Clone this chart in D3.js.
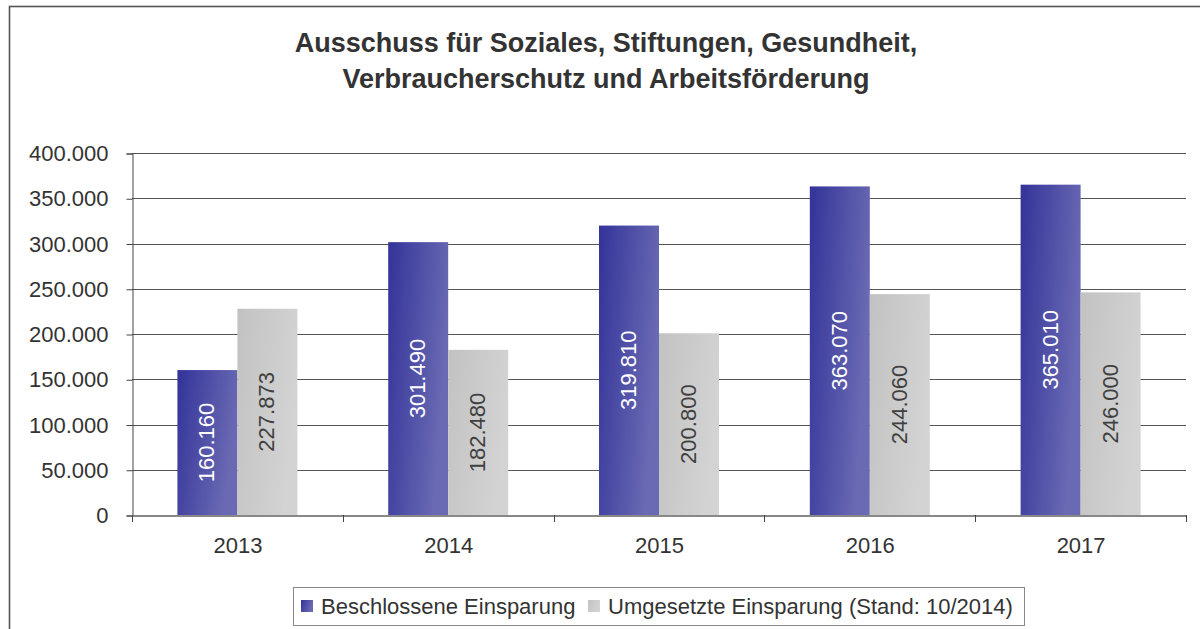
<!DOCTYPE html>
<html>
<head>
<meta charset="utf-8">
<script src="https://cdn.jsdelivr.net/npm/d3@7"></script>
<style>
  html, body { margin: 0; padding: 0; background: #fff; }
  svg { display: block; font-family: "Liberation Sans", Arial, sans-serif; }
</style>
</head>
<body>
<svg id="chart" width="1200" height="629"></svg>
<script>
const titleLines = ["Ausschuss für Soziales, Stiftungen, Gesundheit,", "Verbraucherschutz und Arbeitsförderung"];
const years = ["2013", "2014", "2015", "2016", "2017"];
const seriesNames = ["Beschlossene Einsparung", "Umgesetzte Einsparung (Stand: 10/2014)"];
const beschlossen = [160160, 301490, 319810, 363070, 365010];
const umgesetzt = [227873, 182480, 200800, 244060, 246000];
const yTicks = [0, 50000, 100000, 150000, 200000, 250000, 300000, 350000, 400000];

const svg = d3.select("#chart");
const m = { left: 132, right: 1186, top: 153, bottom: 515 };

const locale = d3.formatLocale({ decimal: ",", thousands: ".", grouping: [3], currency: ["", "€"] });
const fmt = locale.format(",d");

const defs = svg.append("defs");
const gBlue = defs.append("linearGradient").attr("id", "gBlue")
  .attr("x1", 0).attr("y1", 0).attr("x2", 1).attr("y2", 0.35);
gBlue.append("stop").attr("offset", "0%").attr("stop-color", "#333399");
gBlue.append("stop").attr("offset", "100%").attr("stop-color", "#6a6ab4");
const gGray = defs.append("linearGradient").attr("id", "gGray")
  .attr("x1", 0).attr("y1", 0).attr("x2", 1).attr("y2", 0.35);
gGray.append("stop").attr("offset", "0%").attr("stop-color", "#c2c2c2");
gGray.append("stop").attr("offset", "100%").attr("stop-color", "#d3d3d3");
const fills = ["url(#gBlue)", "url(#gGray)"];

// outer frame
svg.append("rect").attr("x", 9.5).attr("y", 6.5).attr("width", 1300).attr("height", 700)
  .attr("fill", "#fff").attr("stroke", "#555").attr("stroke-width", 1.6);

// title
svg.append("g").selectAll("text").data(titleLines).join("text")
  .attr("x", 606).attr("y", (d, i) => 52 + i * 36)
  .attr("text-anchor", "middle").attr("font-weight", "bold").attr("font-size", 27)
  .attr("fill", "#333").text(d => d);

const x = d3.scaleBand().domain(years).range([m.left, m.right]).paddingInner(0).paddingOuter(0);
const x1 = d3.scaleBand().domain([0, 1]).range([0, x.bandwidth()]).paddingInner(0).paddingOuter(0.757);
const y = d3.scaleLinear().domain([0, 400000]).range([m.bottom, m.top]);

// gridlines
svg.append("g").selectAll("line").data(yTicks.filter(t => t > 0)).join("line")
  .attr("x1", m.left).attr("x2", m.right)
  .attr("y1", d => Math.round(y(d)) + 0.5).attr("y2", d => Math.round(y(d)) + 0.5)
  .attr("stroke", "#555").attr("stroke-width", 1);

// y axis
const yAxis = svg.append("g").attr("transform", `translate(${m.left + 0.5},0.5)`)
  .call(d3.axisLeft(y).tickValues(yTicks).tickFormat(fmt).tickSize(6).tickPadding(18));
yAxis.select(".domain").attr("stroke", "#444");
yAxis.selectAll(".tick line").attr("stroke", "#444");
yAxis.selectAll(".tick text").attr("font-size", 22).attr("fill", "#333")
  .attr("font-family", "Liberation Sans, Arial, sans-serif");

// bars
const data = years.map((yr, i) => ({ year: yr, vals: [beschlossen[i], umgesetzt[i]] }));
const groups = svg.append("g").selectAll("g").data(data).join("g")
  .attr("transform", d => `translate(${x(d.year)},0)`);
groups.selectAll("rect").data(d => d.vals.map((v, k) => ({ v, k }))).join("rect")
  .attr("x", d => x1(d.k)).attr("width", x1.bandwidth())
  .attr("y", d => y(d.v)).attr("height", d => y(0) - y(d.v))
  .attr("fill", d => fills[d.k]);
groups.selectAll("text").data(d => d.vals.map((v, k) => ({ v, k }))).join("text")
  .attr("transform", d => `translate(${x1(d.k) + x1.bandwidth() / 2 + 7},${(y(d.v) + y(0)) / 2}) rotate(-90)`)
  .attr("text-anchor", "middle").attr("font-size", 22)
  .attr("fill", d => d.k === 0 ? "#fff" : "#404040")
  .text(d => fmt(d.v));

// x axis
const xAxis = svg.append("g").attr("transform", `translate(0.5,${m.bottom + 0.5})`)
  .call(d3.axisBottom(x).tickSize(0).tickPadding(22));
xAxis.select(".domain").attr("stroke", "#888").attr("stroke-width", 2);
xAxis.selectAll(".tick text").attr("font-size", 22).attr("fill", "#333")
  .attr("font-family", "Liberation Sans, Arial, sans-serif");
// category boundary ticks
svg.append("g").selectAll("line").data(years.map(yr => x(yr)).concat([m.right])).join("line")
  .attr("x1", d => Math.round(d) + 0.5).attr("x2", d => Math.round(d) + 0.5)
  .attr("y1", m.bottom).attr("y2", m.bottom + 7).attr("stroke", "#444");

// legend
const leg = svg.append("g");
leg.append("rect").attr("x", 293.5).attr("y", 587.5).attr("width", 731).attr("height", 38)
  .attr("fill", "#fff").attr("stroke", "#888");
const legX = [301, 588];
seriesNames.forEach((name, i) => {
  leg.append("rect").attr("x", legX[i]).attr("y", 600).attr("width", 12).attr("height", 12).attr("fill", fills[i]);
  leg.append("text").attr("x", legX[i] + 20).attr("y", 614).attr("font-size", 22).attr("fill", "#333").text(name);
});
</script>
</body>
</html>
